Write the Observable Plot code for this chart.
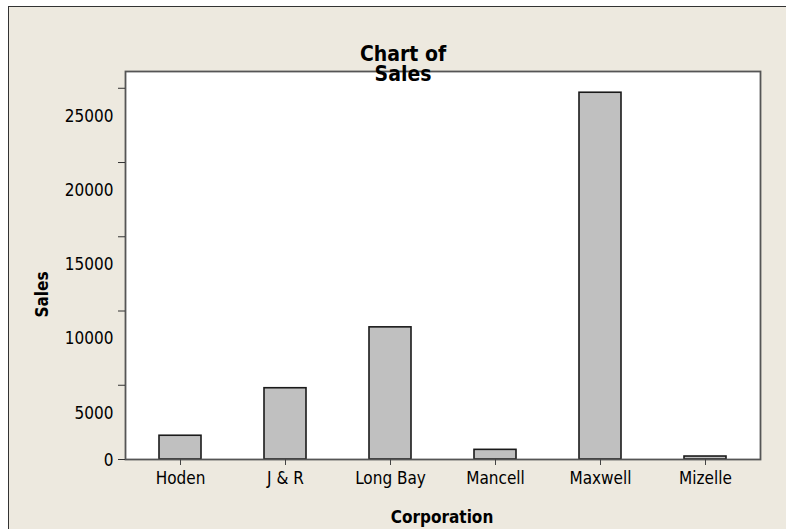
<!DOCTYPE html>
<html><head><meta charset="utf-8">
<script src="https://cdn.jsdelivr.net/npm/d3@7"></script>
<script src="https://cdn.jsdelivr.net/npm/@observablehq/plot@0.6"></script>
<style>
html,body{margin:0;padding:0;background:#fff;}
#wrap{position:relative;width:786px;height:529px;overflow:hidden;}
#bg{position:absolute;left:8px;top:6px;width:900px;height:700px;background:#EDE9DF;border:1.5px solid #333;}
#chart{position:absolute;left:0;top:0;}
</style></head>
<body><div id="wrap"><div id="bg"></div><div id="chart"></div></div>
<script>
const corporations = ["Hoden", "J & R", "Long Bay", "Mancell", "Maxwell", "Mizelle"];
const sales = [1600, 4800, 8900, 650, 24700, 200];
const yTicks = [0, 5000, 10000, 15000, 20000, 25000];
const titleLines = ["Chart of", "Sales"];
const xTitle = "Corporation";
const yTitle = "Sales";

const data = corporations.map((c, i) => ({corporation: c, sales: sales[i]}));
const font = "'DejaVu Sans Condensed', 'DejaVu Sans', sans-serif";
const fmt = d3.format("d");

const chart = Plot.plot({
  width: 786, height: 529,
  marginLeft: 125, marginRight: 26, marginTop: 71, marginBottom: 70,
  style: {fontFamily: font, fontSize: "17px", background: "transparent", color: "#000"},
  x: {domain: corporations, paddingInner: 0.6, paddingOuter: 0.3, label: null},
  y: {domain: [0, 26130], label: null},
  marks: [
    Plot.frame({fill: "white", stroke: null}),
    Plot.barY(data, {x: "corporation", y: "sales", fill: "#C0C0C0", stroke: "#1a1a1a", strokeWidth: 1.6}),
    Plot.frame({stroke: "#555", strokeWidth: 1.8}),
    Plot.axisX({tickSize: 6, tickPadding: 6, stroke: "#444", label: null, fontSize: 17}),
    Plot.axisY(yTicks, {tickSize: 7, tickFormat: () => "", stroke: "#333", label: null}),
    Plot.axisY(yTicks.filter(v => v > 0), {tickSize: 0, tickPadding: 12, dy: 28, tickFormat: fmt, label: null, fontSize: 17}),
    Plot.axisY(yTicks.filter(v => v === 0), {tickSize: 0, tickPadding: 12, dy: 1, tickFormat: fmt, label: null, fontSize: 17}),
    Plot.text([titleLines.join("\n")], {text: d => d, frameAnchor: "top", dx: -40, dy: -7, lineAnchor: "middle", lineHeight: 0.98, fontWeight: "bold", fontSize: 21}),
    Plot.text([yTitle], {text: d => d, frameAnchor: "left", textAnchor: "middle", rotate: -90, dx: -83, dy: 29, lineAnchor: "middle", fontWeight: "bold", fontSize: 17}),
    Plot.text([xTitle], {text: d => d, frameAnchor: "bottom", dy: 58, dx: -1, lineAnchor: "middle", fontWeight: "bold", fontSize: 17})
  ]
});
document.getElementById("chart").appendChild(chart);
</script>
</body></html>
